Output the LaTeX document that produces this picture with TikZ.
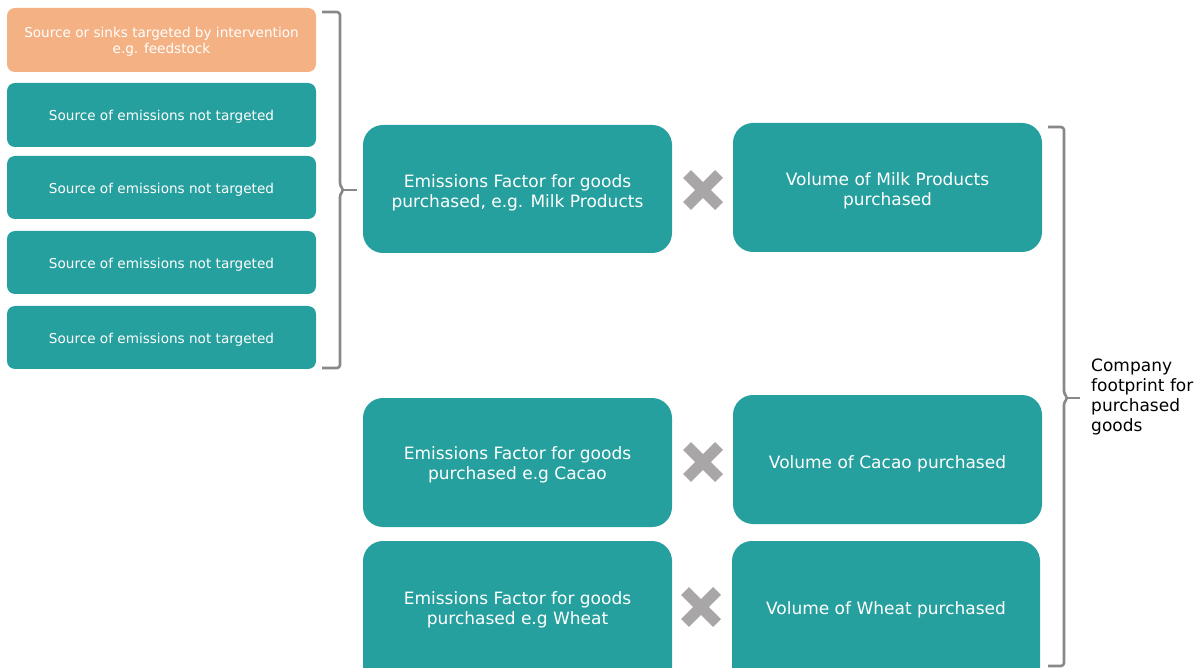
\documentclass[tikz,border=0pt]{standalone}
\usepackage{fontspec}
\setmainfont{DejaVu Sans}
\definecolor{teal1}{HTML}{26A09E}
\definecolor{orange1}{HTML}{F4B183}
\definecolor{brk}{HTML}{888888}
\definecolor{xgray}{HTML}{A8A6A6}
\tikzset{
  smallbox/.style={fill=teal1, rounded corners=8pt},
  bigbox/.style={fill=teal1, rounded corners=20pt},
  smalltext/.style={text=white, font=\fontsize{13.6}{16}\selectfont, align=center, inner sep=0pt, yshift=-2pt},
  bigtext/.style={text=white, font=\fontsize{17}{20}\selectfont, align=center, inner sep=0pt, yshift=-2.5pt},
  bracketline/.style={draw=brk, line width=2.6pt, line join=round},
  xmark/.style={draw=xgray, line width=11pt},
}
\begin{document}
\begin{tikzpicture}[x=1pt,y=-1pt]
\useasboundingbox (0,0) rectangle (1200,668);
% left column
\path[fill=orange1, rounded corners=8pt] (7,8) rectangle (316,72);
\node[smalltext] (src) at (161.5,40) {Source or sinks targeted by intervention\\e.g. feedstock};
\path[smallbox] (7,83) rectangle (316,147);
\node[smalltext] (n1) at (161.5,115) {Source of emissions not targeted};
\path[smallbox] (7,156) rectangle (316,219);
\node[smalltext] (n2) at (161.5,188) {Source of emissions not targeted};
\path[smallbox] (7,231) rectangle (316,294);
\node[smalltext] (n3) at (161.5,263) {Source of emissions not targeted};
\path[smallbox] (7,306) rectangle (316,369);
\node[smalltext] (n4) at (161.5,338) {Source of emissions not targeted};
% left bracket
\draw[bracketline, rounded corners=3pt] (322,12) -- (340,12) -- (340,186) -- (344,190) -- (340,194) -- (340,368) -- (322,368);
\draw[bracketline] (343,190) -- (357,190);
% middle boxes
\path[bigbox] (363,125) rectangle (672,253);
\node[bigtext] (ef1) at (517.5,190) {Emissions Factor for goods\\purchased, e.g. Milk Products};
\path[bigbox] (733,123) rectangle (1042,252);
\node[bigtext] (v1) at (887.5,188) {Volume of Milk Products\\purchased};
\path[bigbox] (363,398) rectangle (672,527);
\node[bigtext] (ef2) at (517.5,462) {Emissions Factor for goods\\purchased e.g Cacao};
\path[bigbox] (733,395) rectangle (1042,524);
\node[bigtext] (v2) at (887.5,461) {Volume of Cacao purchased};
\path[bigbox] (363,541) rectangle (672,690);
\node[bigtext] (ef3) at (517.5,607) {Emissions Factor for goods\\purchased e.g Wheat};
\path[bigbox] (732,541) rectangle (1040,690);
\node[bigtext] (v3) at (886,607) {Volume of Wheat purchased};
% X marks
\foreach \cx/\cy in {703/190, 703/462, 701/607}{
  \draw[xmark] (\cx-16,\cy-16) -- (\cx+16,\cy+16);
  \draw[xmark] (\cx-16,\cy+16) -- (\cx+16,\cy-16);
}
% right bracket
\draw[bracketline, rounded corners=3pt] (1048,127) -- (1064,127) -- (1064,394) -- (1068,398) -- (1064,402) -- (1064,666) -- (1048,666);
\draw[bracketline] (1067,398) -- (1080,398);
\node[anchor=north west, font=\fontsize{17}{20}\selectfont, align=left, inner sep=0pt] (lbl) at (1091,359) {Company\\footprint for\\purchased\\goods};
\end{tikzpicture}
\end{document}
